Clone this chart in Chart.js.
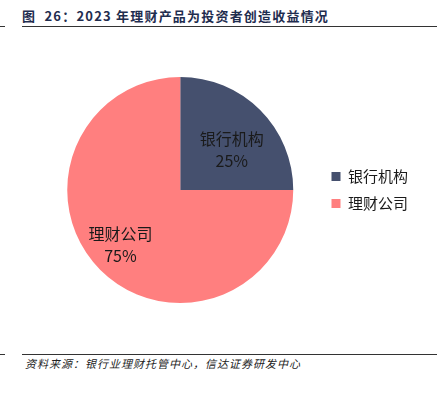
<!DOCTYPE html>
<html>
<head>
<meta charset="utf-8">
<script src="https://cdn.jsdelivr.net/npm/chart.js@4/dist/chart.umd.min.js"></script>
<style>
  body { margin:0; width:448px; height:396px; background:#fff; position:relative; overflow:hidden;
         font-family:"Noto Sans CJK SC", "Noto Sans", sans-serif; }
  #title { position:absolute; left:22px; top:6px; font-size:13px; font-weight:bold; color:#1f2d4f; letter-spacing:1.2px; white-space:nowrap; }
  .rule { position:absolute; height:1px; background:#333; }
  #src { position:absolute; left:25px; top:355px; font-size:11px; font-style:italic; color:#222; letter-spacing:1px; white-space:nowrap; }
  #wrap { position:absolute; left:0; top:0; width:448px; height:396px; }
</style>
</head>
<body>
<div id="title">图&nbsp; 26：2023 年理财产品为投资者创造收益情况</div>
<div class="rule" style="left:22px; top:26px; width:415px;"></div>
<div class="rule" style="left:0px; top:26px; width:5px;"></div>
<div class="rule" style="left:22px; top:354px; width:415px;"></div>
<div class="rule" style="left:0px; top:354px; width:5px;"></div>
<div id="src">资料来源：银行业理财托管中心，信达证券研发中心</div>
<div id="wrap"><canvas id="pie"></canvas></div>
<script>
// 2023 收益分布
const labels = ["银行机构", "理财公司"];
const shares = [25, 75];
const colors = ["#45506e", "#ff7f7f"];
const labelDist = [0.58, 0.72]; // label distance as share of radius
const labelTurn = [0.12, 0.04]; // small angle nudge (rad)

// draws "name\nxx%" inside each slice
const sliceLabels = {
  id: "sliceLabels",
  afterDatasetsDraw(chart) {
    const ctx = chart.ctx;
    const meta = chart.getDatasetMeta(0);
    ctx.save();
    ctx.fillStyle = "#1a1a1a";
    ctx.font = '16px "Noto Sans CJK SC"';
    ctx.textAlign = "center";
    ctx.textBaseline = "middle";
    meta.data.forEach((arc, i) => {
      const p = arc.getProps(["x","y","startAngle","endAngle","outerRadius"], true);
      const mid = (p.startAngle + p.endAngle) / 2 + labelTurn[i];
      const d = p.outerRadius * labelDist[i];
      const x = p.x + Math.cos(mid) * d;
      const y = p.y + Math.sin(mid) * d;
      ctx.fillText(labels[i], x, y - 11);
      ctx.fillText(shares[i] + "%", x, y + 11);
    });
    ctx.restore();
  }
};

new Chart("pie", {
  type: "pie",
  data: {
    labels: labels,
    datasets: [{
      data: shares,
      backgroundColor: colors,
      borderWidth: 0
    }]
  },
  options: {
    responsive: true,
    maintainAspectRatio: false,
    animation: false,
    layout: { padding: { left: 41, right: 30, top: 77, bottom: 93 } },
    plugins: {
      legend: {
        position: "right",
        labels: {
          boxWidth: 9, boxHeight: 9, padding: 12,
          color: "#1a1a1a",
          font: { size: 15, family: '"Noto Sans CJK SC"' }
        }
      },
      tooltip: { enabled: false }
    }
  },
  plugins: [sliceLabels]
});
</script>
</body>
</html>
